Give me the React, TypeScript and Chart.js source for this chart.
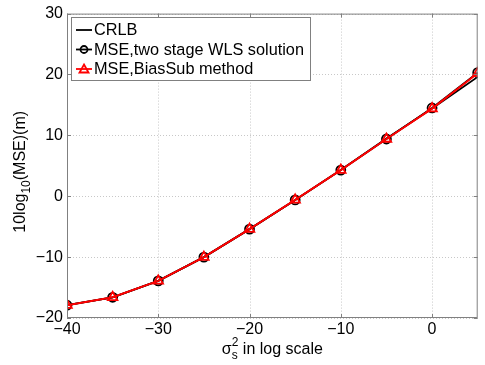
import React, { useEffect, useRef } from "react";
import { Chart, registerables } from "chart.js";

Chart.register(...registerables);

const xValues = [-40, -35, -30, -25, -20, -15, -10, -5, 0, 5];
const crlb = [-17.9, -16.6, -13.9, -10.0, -5.4, -0.6, 4.3, 9.5, 14.4, 19.6];
const mseWls = [-17.9, -16.6, -13.9, -10.0, -5.4, -0.6, 4.3, 9.4, 14.5, 20.3];
const mseBiasSub = [-17.9, -16.6, -13.9, -10.0, -5.4, -0.6, 4.3, 9.4, 14.4, 20.2];
const xTicks = [-40, -30, -20, -10, 0];
const yTicks = [-20, -10, 0, 10, 20, 30];
const legendLabels = ["CRLB", "MSE,two stage WLS solution", "MSE,BiasSub method"];

const FONT = "Liberation Sans, Arial, sans-serif";

const fmt = (v: number) => (v < 0 ? "\u2212" + Math.abs(v) : String(v));

const gridPlugin = {
  id: "dotGrid",
  beforeDatasetsDraw(chart: any) {
    const { ctx, chartArea: a } = chart;
    const xs = chart.scales.x;
    const ys = chart.scales.y;
    ctx.save();
    ctx.strokeStyle = "#c8c8c8";
    ctx.lineWidth = 1;
    ctx.setLineDash([1, 2]);
    ctx.beginPath();
    xTicks.forEach((v) => {
      const px = Math.round(xs.getPixelForValue(v)) + 0.5;
      ctx.moveTo(px, a.top);
      ctx.lineTo(px, a.bottom);
    });
    yTicks.forEach((v) => {
      const py = Math.round(ys.getPixelForValue(v)) + 0.5;
      ctx.moveTo(a.left, py);
      ctx.lineTo(a.right, py);
    });
    ctx.stroke();
    ctx.restore();
  },
};

const framePlugin = {
  id: "frame",
  afterDatasetsDraw(chart: any) {
    const { ctx, chartArea: a } = chart;
    ctx.save();
    ctx.strokeStyle = "#808080";
    ctx.lineWidth = 1;
    ctx.strokeRect(a.left + 0.5, a.top + 0.5, a.right - a.left - 1, a.bottom - a.top - 1);
    const xs = chart.scales.x;
    const ys = chart.scales.y;
    ctx.beginPath();
    xTicks.forEach((v) => {
      const px = Math.round(xs.getPixelForValue(v)) + 0.5;
      ctx.moveTo(px, a.bottom);
      ctx.lineTo(px, a.bottom - 4);
      ctx.moveTo(px, a.top);
      ctx.lineTo(px, a.top + 4);
    });
    yTicks.forEach((v) => {
      const py = Math.round(ys.getPixelForValue(v)) + 0.5;
      ctx.moveTo(a.left, py);
      ctx.lineTo(a.left + 4, py);
      ctx.moveTo(a.right, py);
      ctx.lineTo(a.right - 4, py);
    });
    ctx.stroke();

    ctx.fillStyle = "#000";
    ctx.textBaseline = "alphabetic";
    const f = "16px " + FONT;
    const fs = "12px " + FONT;
    // x title
    ctx.font = f;
    const sigW = ctx.measureText("\u03c3").width;
    ctx.font = fs;
    const supW = ctx.measureText("2").width;
    ctx.font = f;
    const rest = " in log scale";
    const restW = ctx.measureText(rest).width;
    const total = sigW + supW + restW;
    const cx = (a.left + a.right) / 2;
    const x0 = cx - total / 2;
    const base = 354;
    ctx.textAlign = "left";
    ctx.fillText("\u03c3", x0, base);
    ctx.font = fs;
    ctx.fillText("2", x0 + sigW, base - 8);
    ctx.fillText("s", x0 + sigW, base + 5);
    ctx.font = f;
    ctx.fillText(rest, x0 + sigW + supW, base);

    // y title
    ctx.save();
    ctx.translate(25, (a.top + a.bottom) / 2 + 6);
    ctx.rotate(-Math.PI / 2);
    const p1 = "10log";
    const p2 = "10";
    const p3 = "(MSE)(m)";
    ctx.font = f;
    const w1 = ctx.measureText(p1).width;
    const w3 = ctx.measureText(p3).width;
    ctx.font = fs;
    const w2 = ctx.measureText(p2).width;
    const sx = -(w1 + w2 + w3) / 2;
    ctx.font = f;
    ctx.fillText(p1, sx, 0);
    ctx.font = fs;
    ctx.fillText(p2, sx + w1, 5);
    ctx.font = f;
    ctx.fillText(p3, sx + w1 + w2, 0);
    ctx.restore();

    // legend
    const lx = 71, ly = 17, lw = 239, lh = 63;
    ctx.fillStyle = "#fff";
    ctx.fillRect(lx, ly, lw, lh);
    ctx.strokeStyle = "#808080";
    ctx.lineWidth = 1;
    ctx.strokeRect(lx + 0.5, ly + 0.5, lw, lh);
    const rows = [30, 49.5, 69];
    const colors = ["#000", "#000", "#ff0000"];
    rows.forEach((ry, i) => {
      ctx.strokeStyle = colors[i];
      ctx.lineWidth = 1.8;
      ctx.beginPath();
      ctx.moveTo(76, ry);
      ctx.lineTo(92, ry);
      ctx.stroke();
      if (i === 1) {
        ctx.beginPath();
        ctx.arc(84, ry, 3.5, 0, Math.PI * 2);
        ctx.stroke();
      } else if (i === 2) {
        ctx.beginPath();
        ctx.moveTo(84, ry - 4.5);
        ctx.lineTo(88.5, ry + 3.5);
        ctx.lineTo(79.5, ry + 3.5);
        ctx.closePath();
        ctx.stroke();
      }
      ctx.fillStyle = "#000";
      ctx.font = "16.3px " + FONT;
      ctx.textBaseline = "middle";
      ctx.fillText(legendLabels[i], 94, ry + 1);
    });
    ctx.restore();
  },
};

export default function App() {
  const ref = useRef<HTMLCanvasElement>(null);
  useEffect(() => {
    if (!ref.current) return;
    const mk = (arr: number[]) => xValues.map((x, i) => ({ x, y: arr[i] }));
    const chart = new Chart(ref.current, {
      type: "line",
      data: {
        datasets: [
          {
            label: legendLabels[0],
            data: mk(crlb),
            borderColor: "#000",
            borderWidth: 1.8,
            pointRadius: 0,
            fill: false,
            order: 3,
          },
          {
            label: legendLabels[1],
            data: mk(mseWls),
            borderColor: "#000",
            borderWidth: 1.8,
            pointStyle: "circle",
            pointRadius: 4.5,
            pointBorderWidth: 1.8,
            pointBorderColor: "#000",
            pointBackgroundColor: "rgba(0,0,0,0)",
            fill: false,
            order: 2,
          },
          {
            label: legendLabels[2],
            data: mk(mseBiasSub),
            borderColor: "#ff0000",
            borderWidth: 2,
            pointStyle: "triangle",
            pointRadius: 5.5,
            pointBorderWidth: 1.8,
            pointBorderColor: "#ff0000",
            pointBackgroundColor: "rgba(0,0,0,0)",
            fill: false,
            order: 1,
          },
        ],
      },
      options: {
        animation: false,
        responsive: false,
        maintainAspectRatio: false,
        layout: { padding: { left: 0, top: 13, right: 3, bottom: 0 } },
        plugins: { legend: { display: false }, tooltip: { enabled: false } },
        scales: {
          x: {
            type: "linear",
            min: -40,
            max: 5,
            afterBuildTicks: (s: any) => {
              s.ticks = xTicks.map((v) => ({ value: v }));
            },
            afterFit: (s: any) => {
              s.height = 47;
            },
            grid: { display: false, drawTicks: false },
            border: { display: false },
            ticks: {
              padding: 2,
              color: "#000",
              font: { family: FONT, size: 16 },
              maxRotation: 0,
              callback: (v: any) => fmt(Number(v)),
            },
          },
          y: {
            type: "linear",
            min: -20,
            max: 30,
            afterBuildTicks: (s: any) => {
              s.ticks = yTicks.map((v) => ({ value: v }));
            },
            afterFit: (s: any) => {
              s.width = 67;
            },
            grid: { display: false, drawTicks: false },
            border: { display: false },
            ticks: {
              padding: 4,
              color: "#000",
              font: { family: FONT, size: 16 },
              callback: (v: any) => fmt(Number(v)),
            },
          },
        },
      },
      plugins: [gridPlugin, framePlugin],
    } as any);
    return () => chart.destroy();
  }, []);
  return (
    <div style={{ position: "fixed", left: 0, top: 0, width: 485, height: 365, background: "#fff" }}>
      <canvas ref={ref} width={485} height={365} style={{ width: 485, height: 365 }} />
    </div>
  );
}
